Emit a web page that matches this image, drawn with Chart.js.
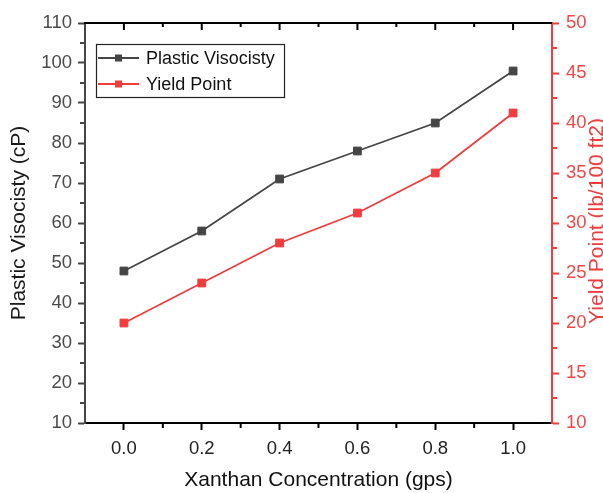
<!DOCTYPE html>
<html>
<head>
<meta charset="utf-8">
<title>Plastic Viscosity and Yield Point vs Xanthan Concentration</title>
<script src="https://cdn.jsdelivr.net/npm/chart.js@4.4.0/dist/chart.umd.min.js"></script>
<style>
  html, body { margin: 0; padding: 0; background: #fff; }
  #wrap { width: 603px; height: 493px; }
</style>
</head>
<body>
<div id="wrap"><canvas id="chart" width="603" height="493"></canvas></div>
<script>
// values
const concentration = [0.0, 0.2, 0.4, 0.6, 0.8, 1.0];
const plasticViscosity = [48, 58, 71, 78, 85, 98];
const yieldPoint = [20, 24, 28, 31, 35, 41];

// tick positions
const xMajorTicks = [0.0, 0.2, 0.4, 0.6, 0.8, 1.0];
const xMinorTicks = [0.1, 0.3, 0.5, 0.7, 0.9];
const pvMinorTicks = [15, 25, 35, 45, 55, 65, 75, 85, 95, 105];
const ypMinorTicks = [12.5, 17.5, 22.5, 27.5, 32.5, 37.5, 42.5, 47.5];

const FONT = "'Liberation Sans', Arial, sans-serif";
const GREY = '#454545';
const RED = '#f03c3c';

Chart.defaults.font.family = FONT;

// top axis line, minor ticks, right title and the boxed legend
const framePlugin = {
    id: 'frame',
    afterDraw(chart) {
        const { ctx, chartArea: a, scales } = chart;
        const line = (x1, y1, x2, y2) => {
            ctx.beginPath();
            ctx.moveTo(x1, y1);
            ctx.lineTo(x2, y2);
            ctx.stroke();
        };
        ctx.save();
        ctx.lineWidth = 2;

        // top axis (mirror, ticks inward)
        ctx.strokeStyle = '#000';
        line(a.left - 1, a.top, a.right, a.top);
        xMajorTicks.forEach(v => {
            const px = scales.x.getPixelForValue(v);
            line(px, a.top, px, a.top + 7);
        });
        xMinorTicks.forEach(v => {
            const px = scales.x.getPixelForValue(v);
            line(px, a.top, px, a.top + 4);
            line(px, a.bottom, px, a.bottom + 5);
        });

        ctx.strokeStyle = GREY;
        pvMinorTicks.forEach(v => {
            const py = scales.y.getPixelForValue(v);
            line(a.left - 5, py, a.left, py);
        });

        ctx.strokeStyle = RED;
        ypMinorTicks.forEach(v => {
            const py = scales.y2.getPixelForValue(v);
            line(a.right, py, a.right + 5, py);
        });

        // right axis title, reads bottom to top like the left one
        ctx.save();
        ctx.translate(597, 221);
        ctx.rotate(-Math.PI / 2);
        ctx.font = '21px ' + FONT;
        ctx.fillStyle = RED;
        ctx.textAlign = 'center';
        ctx.textBaseline = 'middle';
        ctx.fillText('Yield Point (lb/100 ft2)', 0, 0);
        ctx.restore();

        // legend box
        ctx.lineWidth = 1.2;
        ctx.strokeStyle = '#222';
        ctx.strokeRect(96.5, 44.5, 188, 53);
        ctx.font = '18px ' + FONT;
        ctx.textAlign = 'left';
        ctx.textBaseline = 'middle';
        chart.data.datasets.forEach((ds, i) => {
            const y = 58 + i * 26;
            ctx.strokeStyle = ds.borderColor;
            ctx.lineWidth = 1.8;
            line(98, y, 139, y);
            ctx.fillStyle = ds.pointBackgroundColor;
            ctx.fillRect(115, y - 3.5, 7, 7);
            ctx.fillStyle = '#111';
            ctx.fillText(ds.label, 146, y + 1);
        });
        ctx.restore();
    }
};

const ctx = document.getElementById('chart').getContext('2d');

new Chart(ctx, {
    type: 'line',
    data: {
        datasets: [{
            label: 'Plastic Visocisty',
            data: concentration.map((x, i) => ({ x: x, y: plasticViscosity[i] })),
            yAxisID: 'y',
            borderColor: GREY,
            backgroundColor: GREY,
            pointBackgroundColor: GREY,
            pointBorderColor: GREY,
            borderWidth: 1.8,
            pointStyle: 'rect',
            pointRadius: 5.5,
            pointBorderWidth: 1,
            tension: 0
        }, {
            label: 'Yield Point',
            data: concentration.map((x, i) => ({ x: x, y: yieldPoint[i] })),
            yAxisID: 'y2',
            borderColor: RED,
            backgroundColor: RED,
            pointBackgroundColor: RED,
            pointBorderColor: RED,
            borderWidth: 1.8,
            pointStyle: 'rect',
            pointRadius: 5.5,
            pointBorderWidth: 1,
            tension: 0
        }]
    },
    options: {
        responsive: false,
        animation: false,
        layout: { padding: { top: 23, left: 0, right: 0, bottom: 0 } },
        plugins: {
            legend: { display: false },
            tooltip: { enabled: false }
        },
        scales: {
            x: {
                type: 'linear',
                position: 'bottom',
                min: -0.1,
                max: 1.1,
                afterBuildTicks: scale => {
                    scale.ticks = xMajorTicks.map(v => ({ value: v }));
                },
                afterFit: scale => { scale.height = 70; },
                grid: {
                    drawOnChartArea: false,
                    drawTicks: true,
                    tickLength: 7,
                    tickWidth: 2,
                    tickColor: '#000'
                },
                border: { display: true, color: '#000', width: 2 },
                ticks: {
                    padding: 8,
                    color: '#222',
                    font: { size: 18.5 },
                    callback: v => Number(v).toFixed(1)
                },
                title: {
                    display: true,
                    text: 'Xanthan Concentration (gps)',
                    color: '#111',
                    font: { size: 21 },
                    padding: { top: 0, bottom: 0 }
                }
            },
            y: {
                type: 'linear',
                position: 'left',
                min: 10,
                max: 110,
                afterFit: scale => { scale.width = 85; },
                grid: {
                    drawOnChartArea: false,
                    drawTicks: true,
                    tickLength: 7,
                    tickWidth: 2,
                    tickColor: GREY
                },
                border: { display: true, color: GREY, width: 2 },
                ticks: {
                    stepSize: 10,
                    padding: 6,
                    color: '#4a4a4a',
                    font: { size: 18.5 }
                },
                title: {
                    display: true,
                    text: 'Plastic Visocisty (cP)',
                    color: '#1a1a1a',
                    font: { size: 21 },
                    padding: { top: 7, bottom: 0 }
                }
            },
            y2: {
                type: 'linear',
                position: 'right',
                min: 10,
                max: 50,
                afterFit: scale => { scale.width = 51; },
                grid: {
                    drawOnChartArea: false,
                    drawTicks: true,
                    tickLength: 7,
                    tickWidth: 2,
                    tickColor: RED
                },
                border: { display: true, color: RED, width: 2 },
                ticks: {
                    stepSize: 5,
                    padding: 7,
                    color: '#f24848',
                    font: { size: 18.5 }
                },
                title: { display: false }
            }
        }
    },
    plugins: [framePlugin]
});
</script>
</body>
</html>
